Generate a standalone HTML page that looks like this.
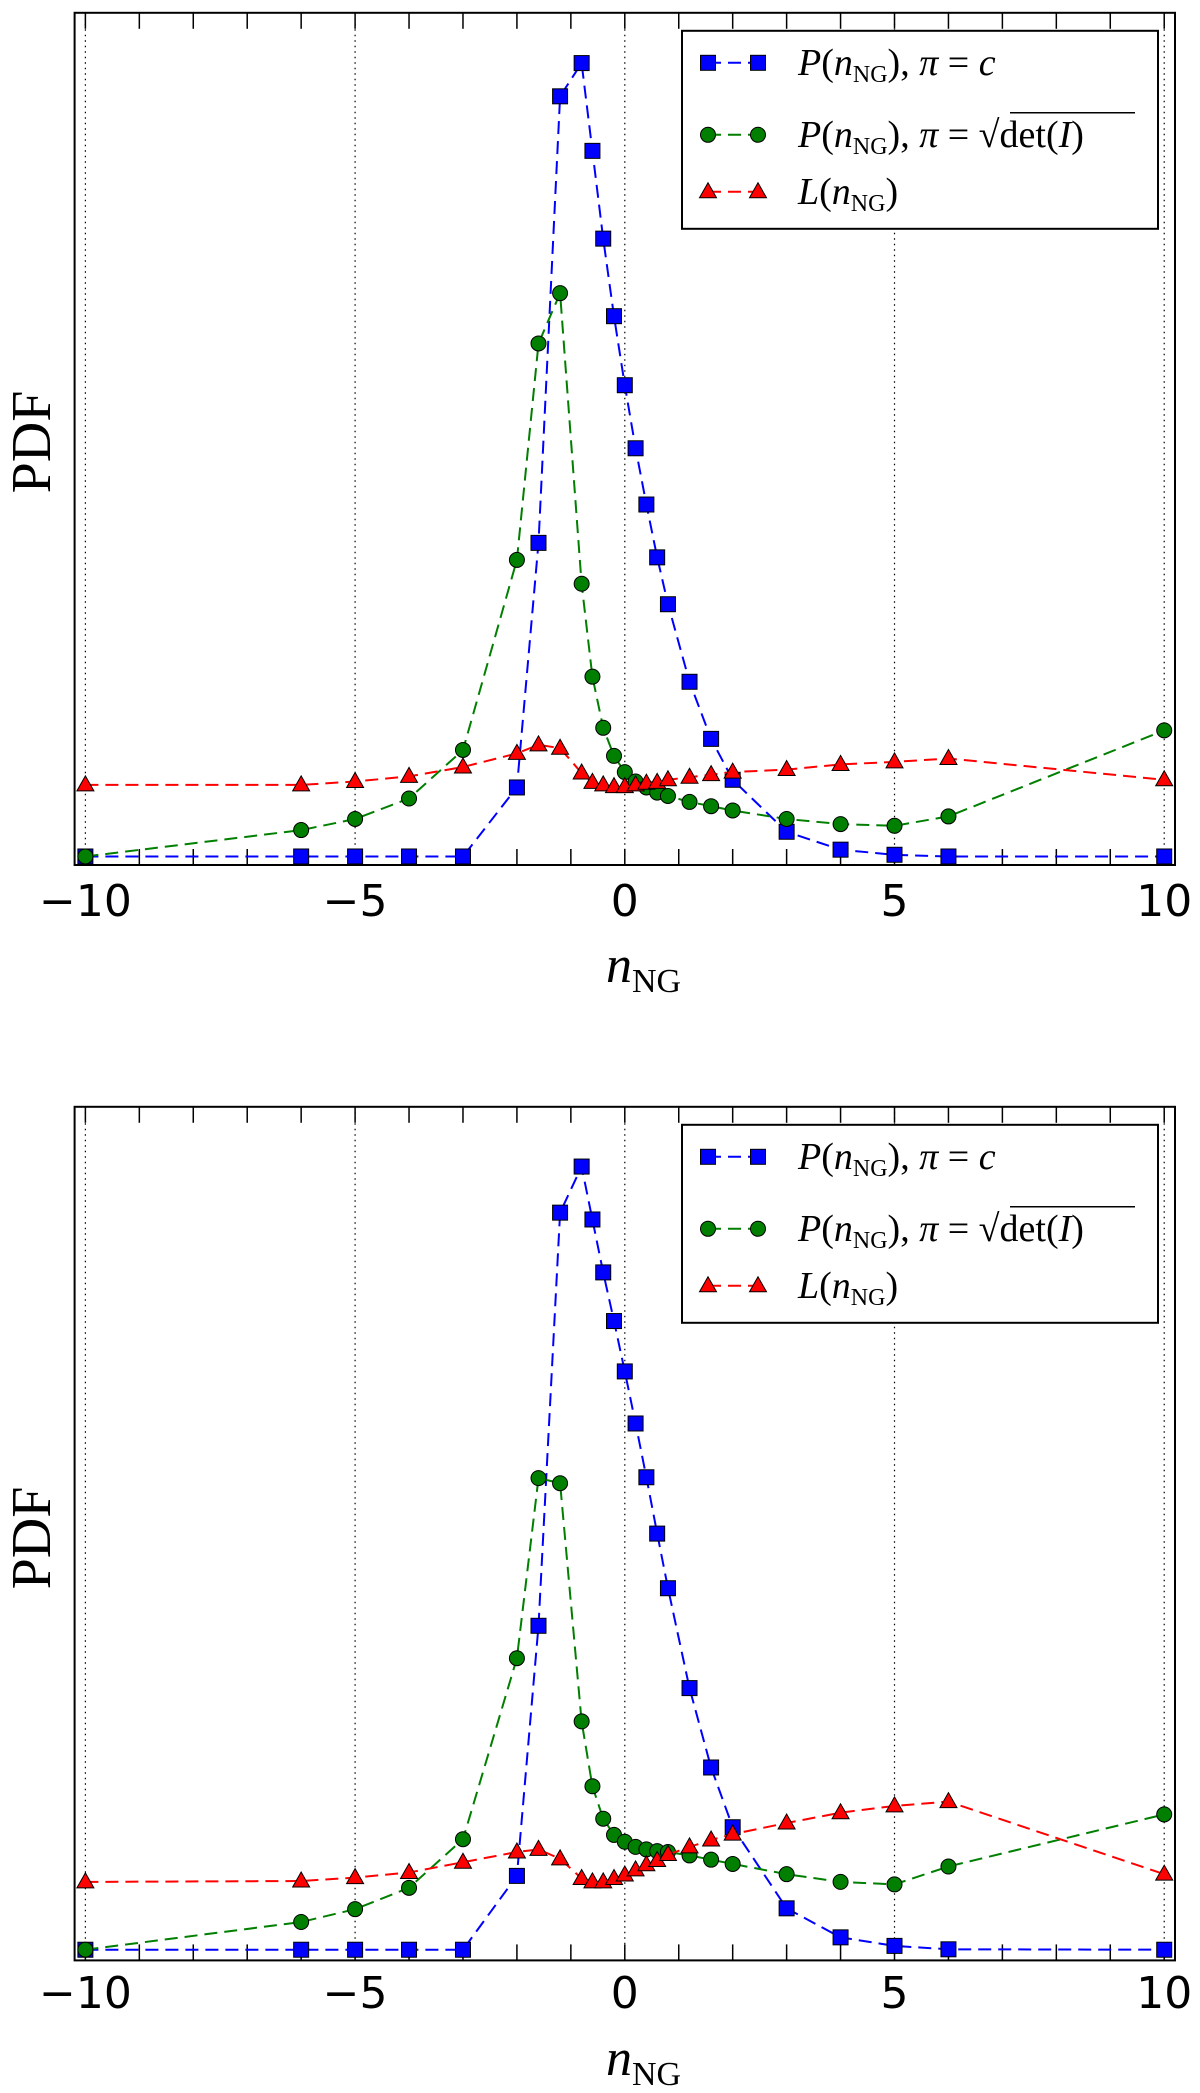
<!DOCTYPE html>
<html><head><meta charset="utf-8"><style>
html,body{margin:0;padding:0;background:#fff;}
svg{display:block;}
</style></head><body>
<svg id="chart" width="1200" height="2093" viewBox="0 0 1200 2093" xmlns="http://www.w3.org/2000/svg"></svg>
<script>
const xs = [-10,-6,-5,-4,-3,-2,-1.6,-1.2,-0.8,-0.6,-0.4,-0.2,0,0.2,0.4,0.6,0.8,1.2,1.6,2,3,4,5,6,10];
const xTicks = [-10,-5,0,5,10];
const xTickLabels = ["\u221210","\u22125","0","5","10"];
const topBlue = [0.010,0.010,0.010,0.010,0.010,0.091,0.378,0.902,0.941,0.838,0.735,0.644,0.563,0.489,0.423,0.361,0.306,0.215,0.148,0.100,0.039,0.018,0.012,0.010,0.010];
const topGreen = [0.010,0.041,0.054,0.078,0.135,0.358,0.612,0.671,0.330,0.221,0.161,0.128,0.109,0.098,0.091,0.085,0.081,0.074,0.069,0.064,0.054,0.048,0.046,0.057,0.158];
const topRed = [0.094,0.094,0.098,0.104,0.115,0.131,0.141,0.137,0.108,0.097,0.094,0.092,0.092,0.094,0.096,0.097,0.100,0.103,0.106,0.109,0.112,0.118,0.121,0.125,0.100];
const botBlue = [0.0125,0.0125,0.0125,0.0125,0.0125,0.099,0.392,0.876,0.930,0.868,0.806,0.749,0.690,0.629,0.566,0.500,0.436,0.319,0.226,0.156,0.061,0.027,0.017,0.013,0.0125];
const botGreen = [0.0125,0.045,0.060,0.085,0.142,0.354,0.565,0.559,0.280,0.204,0.166,0.147,0.139,0.133,0.130,0.128,0.127,0.123,0.118,0.113,0.101,0.092,0.089,0.110,0.171];
const botRed = [0.092,0.093,0.097,0.103,0.115,0.127,0.130,0.119,0.096,0.092,0.092,0.096,0.100,0.106,0.112,0.117,0.124,0.133,0.141,0.148,0.161,0.173,0.181,0.186,0.101];

const NS = "http://www.w3.org/2000/svg";
const svg = document.getElementById("chart");
function mk(tag, attrs, parent){
  const e = document.createElementNS(NS, tag);
  for (const k in attrs) e.setAttribute(k, attrs[k]);
  (parent||svg).appendChild(e);
  return e;
}
const L = 74.6, R = 1175, XMIN = -10.2, XMAX = 10.2;
function sx(v){ return L + (v - XMIN) / (XMAX - XMIN) * (R - L); }

function marker(g, kind, cx, cy, color){
  let m;
  if (kind === "sq") m = mk("rect", {x:cx-7.5, y:cy-7.5, width:15, height:15, fill:color, stroke:"#000", "stroke-width":1}, g);
  else if (kind === "ci") m = mk("circle", {cx:cx, cy:cy, r:7.5, fill:color, stroke:"#000", "stroke-width":1}, g);
  else m = mk("polygon", {points:`${cx},${cy-9} ${cx-8.5},${cy+6} ${cx+8.5},${cy+6}`, fill:color, stroke:"#000", "stroke-width":1}, g);
  return m;
}

function panel(id, T, B, blue, green, red, tickY, labelY, pdfY){
  const H = B - T;
  const sy = v => B - v * H;
  const g = mk("g", {});
  
  
  xTicks.forEach(t => {
    const l = mk("line", {x1:sx(t), x2:sx(t), y1:T, y2:B, stroke:"#000", "stroke-width":1.2, "stroke-dasharray":"1.5,4"}, g);
    
    
  });
  for (let t = -10; t <= 10; t++) {
    const len = 16;
    mk("line", {x1:sx(t), x2:sx(t), y1:T, y2:T+len, stroke:"#000", "stroke-width":1.5}, g);
    mk("line", {x1:sx(t), x2:sx(t), y1:B, y2:B-len, stroke:"#000", "stroke-width":1.5}, g);
  }
  [[blue,"#0000ff","sq","series-uniform-prior"],[green,"#007f00","ci","series-jeffreys-prior"],[red,"#ff0000","tr","series-likelihood"]].forEach(s => {
    const sg = mk("g", {}, g);
    
    
    const pts = xs.map((x,i) => sx(x).toFixed(1) + "," + sy(s[0][i]).toFixed(1)).join(" ");
    mk("polyline", {points:pts, fill:"none", stroke:s[1], "stroke-width":2, "stroke-dasharray":"13,7"}, sg);
    xs.forEach((x,i) => {
      const m = marker(sg, s[2], sx(x), sy(s[0][i]), s[1]);
      
      
    });
  });
  const fr = mk("rect", {x:L, y:T, width:R-L, height:H, fill:"none", stroke:"#000", "stroke-width":2}, g);
  
  
  xTicks.forEach((t,i) => {
    const tx = mk("text", {x:sx(t), y:tickY, "text-anchor":"middle", "font-family":"DejaVu Sans, Liberation Sans, sans-serif", "font-size":44}, g);
    tx.textContent = xTickLabels[i];
    
    
  });
  const xl = mk("text", {x:606, y:labelY, "font-family":"Liberation Serif, serif", "font-size":52}, g);
  
  
  xl.innerHTML = '<tspan font-style="italic">n</tspan><tspan font-size="34" dy="10">NG</tspan>';
  const yl = mk("text", {x:0, y:0, "text-anchor":"middle", "font-family":"Liberation Serif, serif", "font-size":56, transform:`translate(50,${pdfY}) rotate(-90)`}, g);
  yl.textContent = "PDF";
  
  
  const lt = T + 18;
  const lg = mk("g", {}, g);
  
  
  mk("rect", {x:682, y:lt, width:476, height:198, fill:"#fff", stroke:"#000", "stroke-width":2}, lg);
  const rows = [[lt+32,"#0000ff","sq",'<tspan font-style="italic">P</tspan>(<tspan font-style="italic">n</tspan><tspan font-size="24" dy="7">NG</tspan><tspan dy="-7">),  </tspan><tspan font-style="italic">π</tspan> = <tspan font-style="italic">c</tspan>'],
              [lt+104,"#007f00","ci",'<tspan font-style="italic">P</tspan>(<tspan font-style="italic">n</tspan><tspan font-size="24" dy="7">NG</tspan><tspan dy="-7">),  </tspan><tspan font-style="italic">π</tspan> = √det(<tspan font-style="italic">I</tspan>)'],
              [lt+161,"#ff0000","tr",'<tspan font-style="italic">L</tspan>(<tspan font-style="italic">n</tspan><tspan font-size="24" dy="7">NG</tspan><tspan dy="-7">)</tspan>']];
  rows.forEach((r,i) => {
    const eg = mk("g", {}, lg);
    
    
    mk("line", {x1:708, x2:758, y1:r[0], y2:r[0], stroke:r[1], "stroke-width":2, "stroke-dasharray":"13,7"}, eg);
    marker(eg, r[2], 708, r[0], r[1]);
    marker(eg, r[2], 758, r[0], r[1]);
    const t = mk("text", {x:798, y:r[0]+12, "font-family":"Liberation Serif, serif", "font-size":38}, eg);
    t.innerHTML = r[3];
    if (i === 1) {
      let x1 = 1010, x2 = 1135;
      try {
        const s = t.textContent;
        const k = s.indexOf("√");
        const e1 = t.getExtentOfChar(k);
        const e2 = t.getExtentOfChar(s.length - 1);
        x1 = e1.x + e1.width * 0.6; x2 = e2.x + e2.width;
      } catch(err) {}
      mk("line", {x1:x1, x2:x2, y1:r[0]-22, y2:r[0]-22, stroke:"#000", "stroke-width":1.5}, eg);
    }
  });
}
panel("top-panel", 12.8, 865, topBlue, topGreen, topRed, 916, 982, 442);
panel("bottom-panel", 1106.8, 1960.4, botBlue, botGreen, botRed, 2008, 2075, 1538);
</script>
</body></html>
